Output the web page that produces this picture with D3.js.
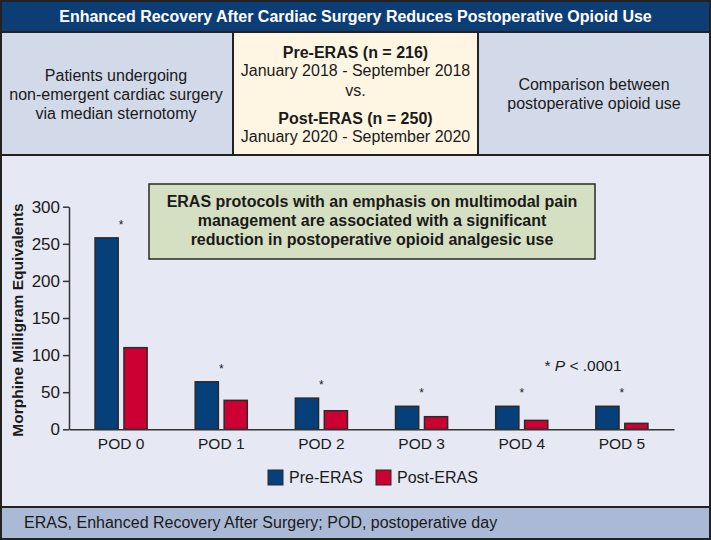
<!DOCTYPE html>
<html>
<head>
<meta charset="utf-8">
<script src="https://cdn.jsdelivr.net/npm/d3@7"></script>
<style>
  body { margin: 0; background: #fff; }
  svg text { font-family: "Liberation Sans", Arial, sans-serif; fill: #1a1a1a; }
</style>
</head>
<body>
<div id="chart"></div>
<script>
var W = 711, H = 540;

var days = ["POD 0", "POD 1", "POD 2", "POD 3", "POD 4", "POD 5"];
var groups = ["Pre-ERAS", "Post-ERAS"];
var preEras = [258, 64, 42, 31, 31, 31];
var postEras = [110, 39, 25, 17, 12, 8];
var yTicks = [0, 50, 100, 150, 200, 250, 300];
var colors = ["#05407a", "#cc0033"];

var svg = d3.select("#chart").append("svg")
    .attr("width", W)
    .attr("height", H);

// --- header panels ---
svg.append("rect").attr("x", 0).attr("y", 0).attr("width", W).attr("height", 32)
    .style("fill", "#0c3d75");
svg.append("text").attr("x", W / 2).attr("y", 22)
    .style("text-anchor", "middle").style("font-size", "16px").style("font-weight", 700)
    .style("fill", "#fff")
    .text("Enhanced Recovery After Cardiac Surgery Reduces Postoperative Opioid Use");

svg.append("rect").attr("x", 0).attr("y", 32).attr("width", 233).attr("height", 123).style("fill", "#d2d9e9");
svg.append("rect").attr("x", 233).attr("y", 32).attr("width", 245).attr("height", 123).style("fill", "#fef6e2");
svg.append("rect").attr("x", 478).attr("y", 32).attr("width", W - 478).attr("height", 123).style("fill", "#d2d9e9");

var leftLines = ["Patients undergoing", "non-emergent cardiac surgery", "via median sternotomy"];
svg.selectAll(".leftLine").data(leftLines).enter().append("text")
    .attr("x", 116).attr("y", function(d, i) { return 81 + i * 19; })
    .style("text-anchor", "middle").style("font-size", "16px")
    .text(function(d) { return d; });

var midLines = [
  {t: "Pre-ERAS (n = 216)", b: true, y: 58},
  {t: "January 2018 - September 2018", b: false, y: 76},
  {t: "vs.", b: false, y: 96},
  {t: "Post-ERAS (n = 250)", b: true, y: 124},
  {t: "January 2020 - September 2020", b: false, y: 142}
];
svg.selectAll(".midLine").data(midLines).enter().append("text")
    .attr("x", 355.5).attr("y", function(d) { return d.y; })
    .style("text-anchor", "middle").style("font-size", "16px")
    .style("font-weight", function(d) { return d.b ? 700 : 400; })
    .text(function(d) { return d.t; });

var rightLines = ["Comparison between", "postoperative opioid use"];
svg.selectAll(".rightLine").data(rightLines).enter().append("text")
    .attr("x", 594).attr("y", function(d, i) { return 90 + i * 19; })
    .style("text-anchor", "middle").style("font-size", "16px")
    .text(function(d) { return d; });

// --- chart panel ---
svg.append("rect").attr("x", 0).attr("y", 155).attr("width", W).attr("height", 352).style("fill", "#e6e9f3");
svg.append("rect").attr("x", 0).attr("y", 507).attr("width", W).attr("height", H - 507).style("fill", "#aab9d5");
svg.append("text").attr("x", 24).attr("y", 528)
    .style("font-size", "16px")
    .text("ERAS, Enhanced Recovery After Surgery; POD, postoperative day");

// grid lines of the panel layout
var lines = [[0, 32, W, 32], [0, 155, W, 155], [0, 507, W, 507], [233, 32, 233, 155], [478, 32, 478, 155]];
svg.selectAll(".sep").data(lines).enter().append("line")
    .attr("x1", function(d) { return d[0]; }).attr("y1", function(d) { return d[1]; })
    .attr("x2", function(d) { return d[2]; }).attr("y2", function(d) { return d[3]; })
    .style("stroke", "#222").style("stroke-width", 2);
svg.append("rect").attr("x", 1).attr("y", 1).attr("width", W - 2).attr("height", H - 2)
    .style("fill", "none").style("stroke", "#222").style("stroke-width", 2);

// --- bars ---
var margin = {left: 69, top: 206.7, right: 674, bottom: 429.3};
var y = d3.scaleLinear().domain([0, 300]).range([margin.bottom, margin.top]);
var x0 = d3.scaleBand().domain(days).range([margin.left, margin.right]).paddingInner(0.48).paddingOuter(0.26);
var x1 = d3.scaleBand().domain(groups).range([0, x0.bandwidth()]).paddingInner(0.2);

var data = days.map(function(d, i) { return {day: d, vals: [preEras[i], postEras[i]]}; });

var g = svg.append("g");
var grp = g.selectAll(".grp").data(data).enter().append("g")
    .attr("transform", function(d) { return "translate(" + x0(d.day) + ",0)"; });

grp.selectAll("rect").data(function(d) { return d.vals; }).enter().append("rect")
    .attr("x", function(d, i) { return x1(groups[i]); })
    .attr("y", function(d) { return y(d); })
    .attr("width", x1.bandwidth())
    .attr("height", function(d) { return y(0) - y(d); })
    .style("fill", function(d, i) { return colors[i]; })
    .style("stroke", "#2a2a2a")
    .style("stroke-width", 1.5);

grp.append("text")
    .attr("x", x0.bandwidth() / 2)
    .attr("y", function(d) { return y(d.vals[0]) - 9; })
    .style("text-anchor", "middle").style("font-size", "12px")
    .text("*");

// --- axes ---
var yAxis = g.append("g").attr("transform", "translate(" + margin.left + ",0)")
    .call(d3.axisLeft(y).tickValues(yTicks).tickSize(6).tickSizeOuter(0));
yAxis.select(".domain").style("stroke", "#333").style("stroke-width", 1.5);
yAxis.selectAll(".tick line").style("stroke", "#333").style("stroke-width", 1.5);
yAxis.selectAll(".tick text").style("font-size", "17px").attr("x", -9).style("font-family", null);

var xAxis = g.append("g").attr("transform", "translate(0," + margin.bottom + ")")
    .call(d3.axisBottom(x0).tickSize(0).tickSizeOuter(0));
xAxis.select(".domain").style("stroke", "#333").style("stroke-width", 1.5);
xAxis.selectAll(".tick text").style("font-size", "15.5px").attr("y", 9).attr("dy", "0.71em").style("font-family", null);

svg.append("text")
    .attr("transform", "translate(23," + ((margin.top + margin.bottom) / 2 + 2) + ") rotate(-90)")
    .style("text-anchor", "middle").style("font-size", "15.5px").style("font-weight", 700)
    .text("Morphine Milligram Equivalents");

// --- note box ---
svg.append("rect").attr("x", 149).attr("y", 184).attr("width", 446).attr("height", 75)
    .style("fill", "#d5dfc1").style("stroke", "#2a2a2a").style("stroke-width", 1.5);
var noteLines = ["ERAS protocols with an emphasis on multimodal pain",
                 "management are associated with a significant",
                 "reduction in postoperative opioid analgesic use"];
svg.selectAll(".note").data(noteLines).enter().append("text")
    .attr("x", 372).attr("y", function(d, i) { return 207 + i * 19; })
    .style("text-anchor", "middle").style("font-size", "16px").style("font-weight", 700)
    .text(function(d) { return d; });

var pNote = svg.append("text").attr("x", 583).attr("y", 371)
    .style("text-anchor", "middle").style("font-size", "15.5px");
pNote.append("tspan").text("* ");
pNote.append("tspan").style("font-style", "italic").text("P");
pNote.append("tspan").text(" < .0001");

// --- legend ---
var legend = svg.selectAll(".legend").data(groups).enter().append("g")
    .attr("transform", function(d, i) { return "translate(" + [268, 376][i] + ",470)"; });
legend.append("rect").attr("width", 15).attr("height", 15)
    .style("fill", function(d, i) { return colors[i]; })
    .style("stroke", "#2a2a2a").style("stroke-width", 1);
legend.append("text").attr("x", 21).attr("y", 13)
    .style("font-size", "16px")
    .text(function(d) { return d; });
</script>
</body>
</html>
